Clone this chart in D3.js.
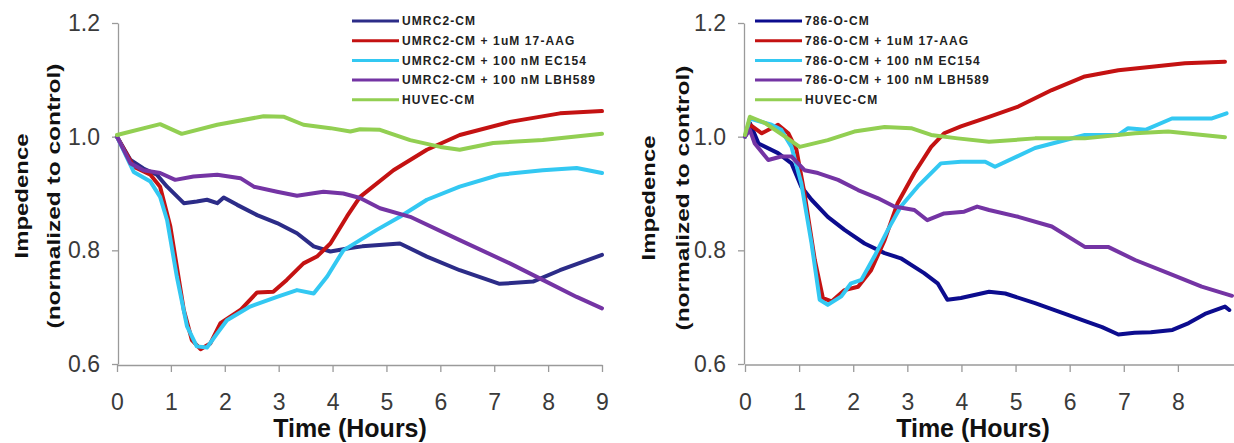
<!DOCTYPE html>
<html>
<head>
<meta charset="utf-8">
<script src="https://cdn.jsdelivr.net/npm/d3@7"></script>
<style>
  html, body { margin: 0; padding: 0; background: #fff; }
  svg { display: block; }
  text { font-family: "Liberation Sans", Arial, sans-serif; }
</style>
</head>
<body>
<svg id="chart" width="1234" height="443"></svg>
<script>
// ---------------- DATA ----------------
const yTicks = [0.6, 0.8, 1.0, 1.2];
const xTicksLeft = [0, 1, 2, 3, 4, 5, 6, 7, 8, 9];
const xTicksRight = [0, 1, 2, 3, 4, 5, 6, 7, 8];
const yTitle1 = "Impedence";
const yTitle2 = "(normalized to control)";
const xTitle = "Time (Hours)";

const legendLeft = ["UMRC2-CM", "UMRC2-CM + 1uM 17-AAG", "UMRC2-CM + 100 nM EC154", "UMRC2-CM + 100 nM LBH589", "HUVEC-CM"];
const legendRight = ["786-O-CM", "786-O-CM + 1uM 17-AAG", "786-O-CM + 100 nM EC154", "786-O-CM + 100 nM LBH589", "HUVEC-CM"];

// Left panel (UMRC2)
const umrcT = [0, 0.25, 0.49, 0.74, 0.93, 1.24, 1.48, 1.67, 1.86, 1.98, 2.23, 2.6, 2.97, 3.34, 3.65, 3.96, 4.33, 4.55, 5.25, 5.75, 6.36, 7.1, 7.72, 8.22, 9.0];
const umrcV = [1.0, 0.959, 0.944, 0.933, 0.912, 0.883, 0.886, 0.889, 0.883, 0.893, 0.88, 0.862, 0.848, 0.83, 0.807, 0.798, 0.804, 0.807, 0.812, 0.789, 0.765, 0.741, 0.745, 0.765, 0.792];

const umrcAagT = [0, 0.31, 0.62, 0.8, 0.99, 1.24, 1.39, 1.55, 1.73, 1.92, 2.29, 2.6, 2.9, 3.15, 3.46, 3.71, 3.96, 4.27, 4.51, 5.13, 5.75, 6.36, 7.29, 8.22, 9.0];
const umrcAagV = [1.0, 0.947, 0.933, 0.912, 0.842, 0.695, 0.642, 0.626, 0.636, 0.672, 0.695, 0.726, 0.727, 0.748, 0.777, 0.789, 0.812, 0.86, 0.894, 0.941, 0.977, 1.003, 1.026, 1.041, 1.045];

const umrcEcT = [0, 0.31, 0.62, 0.8, 0.93, 1.11, 1.3, 1.48, 1.67, 1.86, 2.04, 2.47, 2.97, 3.34, 3.65, 3.9, 4.2, 4.51, 4.82, 5.25, 5.75, 6.36, 7.1, 7.9, 8.53, 9.0];
const umrcEcV = [1.0, 0.938, 0.921, 0.894, 0.853, 0.754, 0.666, 0.631, 0.629, 0.654, 0.677, 0.701, 0.718, 0.73, 0.724, 0.754, 0.8, 0.818, 0.836, 0.859, 0.889, 0.912, 0.933, 0.941, 0.945, 0.936];

const umrcLbhT = [0, 0.25, 0.49, 0.8, 1.08, 1.42, 1.86, 2.29, 2.54, 2.97, 3.34, 3.83, 4.2, 4.51, 4.88, 5.44, 6.36, 7.29, 7.9, 8.53, 9.0];
const umrcLbhV = [1.0, 0.953, 0.941, 0.936, 0.924, 0.93, 0.933, 0.927, 0.912, 0.903, 0.896, 0.903, 0.9, 0.892, 0.874, 0.859, 0.818, 0.777, 0.748, 0.718, 0.698];

const huvecLT = [0, 0.8, 1.2, 1.86, 2.72, 3.1, 3.46, 3.96, 4.33, 4.51, 4.88, 5.44, 6.0, 6.36, 6.98, 7.9, 9.0];
const huvecLV = [1.003, 1.022, 1.005, 1.021, 1.036, 1.035, 1.021, 1.015, 1.009, 1.013, 1.012, 0.994, 0.982, 0.977, 0.989, 0.994, 1.005];

// Right panel (786-O)
const oT = [0, 0.09, 0.25, 0.61, 0.86, 1.04, 1.23, 1.53, 1.84, 2.21, 2.58, 2.88, 3.31, 3.56, 3.74, 3.99, 4.51, 4.81, 5.36, 5.98, 6.3, 6.6, 6.9, 7.2, 7.5, 7.9, 8.2, 8.5, 8.87, 8.95];
const oV = [1.0, 1.024, 0.988, 0.971, 0.953, 0.912, 0.889, 0.859, 0.836, 0.812, 0.795, 0.786, 0.76, 0.742, 0.713, 0.716, 0.727, 0.724, 0.707, 0.686, 0.675, 0.665, 0.652, 0.655, 0.656, 0.66, 0.672, 0.688, 0.701, 0.695];

const oAagT = [0, 0.09, 0.31, 0.61, 0.8, 0.95, 1.1, 1.29, 1.44, 1.6, 1.84, 2.09, 2.33, 2.58, 2.82, 3.13, 3.44, 3.68, 3.99, 4.51, 5.05, 5.67, 6.28, 6.9, 7.52, 8.13, 8.87];
const oAagV = [1.0, 1.021, 1.006, 1.021, 1.006, 0.977, 0.9, 0.783, 0.716, 0.71, 0.73, 0.736, 0.765, 0.818, 0.883, 0.936, 0.982, 1.006, 1.018, 1.035, 1.053, 1.082, 1.106, 1.117, 1.123, 1.129, 1.132];

const oEcT = [0, 0.09, 0.49, 0.67, 0.86, 1.04, 1.23, 1.38, 1.53, 1.78, 1.96, 2.15, 2.39, 2.64, 2.88, 3.19, 3.62, 3.99, 4.44, 4.62, 5.36, 6.28, 6.9, 7.08, 7.4, 7.89, 8.63, 8.9];
const oEcV = [1.0, 1.032, 1.021, 1.012, 0.982, 0.918, 0.812, 0.713, 0.704, 0.719, 0.742, 0.748, 0.789, 0.836, 0.877, 0.912, 0.953, 0.956, 0.956, 0.947, 0.98, 1.003, 1.003, 1.015, 1.012, 1.032, 1.032, 1.041];

const oLbhT = [0, 0.09, 0.18, 0.43, 0.67, 0.86, 1.1, 1.35, 1.72, 2.09, 2.45, 2.76, 3.13, 3.37, 3.68, 4.05, 4.29, 4.51, 5.05, 5.67, 6.28, 6.71, 7.21, 7.82, 8.44, 9.0];
const oLbhV = [1.0, 1.012, 0.988, 0.959, 0.965, 0.965, 0.941, 0.936, 0.924, 0.906, 0.892, 0.877, 0.871, 0.853, 0.865, 0.868, 0.877, 0.871, 0.859, 0.842, 0.806, 0.806, 0.783, 0.76, 0.736, 0.72];

const huvecRT = [0, 0.09, 0.37, 0.74, 1.01, 1.53, 2.02, 2.58, 3.07, 3.44, 3.93, 4.51, 5.36, 6.28, 7.21, 7.82, 8.87];
const huvecRV = [1.003, 1.035, 1.024, 1.0, 0.982, 0.994, 1.009, 1.017, 1.015, 1.003, 0.997, 0.991, 0.997, 0.997, 1.006, 1.009, 0.999];

// ---------------- DRAW ----------------
const svg = d3.select("#chart");
const zip = (ts, vs) => ts.map((t, i) => ({ t: t, v: vs[i] }));

const panels = [
  {
    x0: 117, x1: 602, yAxisX: 118, xTicks: xTicksLeft, legend: legendLeft,
    legX: 352, legY: 21, title1X: 28, title2X: 60, titleY: 196, xTitleX: 350,
    colors: ["#2c2c88", "#c41212", "#33c8f2", "#7434a4", "#92cf52"],
    series: [zip(umrcT, umrcV), zip(umrcAagT, umrcAagV), zip(umrcEcT, umrcEcV), zip(umrcLbhT, umrcLbhV), zip(huvecLT, huvecLV)]
  },
  {
    x0: 745, x1: 1232, yAxisX: 744, xTicks: xTicksRight, legend: legendRight,
    legX: 755, legY: 21, title1X: 655, title2X: 689, titleY: 198, xTitleX: 973,
    colors: ["#0c0c8e", "#c41212", "#33c8f2", "#7434a4", "#92cf52"],
    series: [zip(oT, oV), zip(oAagT, oAagV), zip(oEcT, oEcV), zip(oLbhT, oLbhV), zip(huvecRT, huvecRV)]
  }
];

const yTop = 23, yBot = 364;

panels.forEach(p => {
  const x = d3.scaleLinear().domain([0, 9]).range([p.x0, p.x1]);
  const y = d3.scaleLinear().domain([0.6, 1.2]).range([yBot, yTop]);
  const g = svg.append("g");

  // y axis
  const ya = g.append("g").attr("transform", `translate(${p.yAxisX},0)`)
    .call(d3.axisLeft(y).tickValues(yTicks).tickFormat(d3.format(".1f")).tickSize(6).tickPadding(12).tickSizeOuter(0));
  // x axis
  const xa = g.append("g").attr("transform", `translate(0,${yBot + 1})`)
    .call(d3.axisBottom(x).tickValues(p.xTicks).tickFormat(d3.format("d")).tickSize(7).tickPadding(22).tickSizeOuter(0));
  if (p.x1 > 1200) {
    xa.select(".domain").attr("d", `M${p.x0},0H1234`);
  }
  [ya, xa].forEach(a => {
    a.select(".domain").attr("stroke", "#9a9a9a").attr("stroke-width", 1.3);
    a.selectAll(".tick line").attr("stroke", "#9a9a9a").attr("stroke-width", 1.3);
    a.selectAll(".tick text").attr("fill", "#3a3a3a").attr("font-size", 23)
      .attr("font-family", "'Liberation Sans', Arial, sans-serif");
  });

  // lines
  const line = d3.line().x(d => x(d.t)).y(d => y(d.v)).curve(d3.curveLinear);
  p.series.forEach((s, i) => {
    g.append("path").datum(s).attr("d", line)
      .attr("fill", "none").attr("stroke", p.colors[i]).attr("stroke-width", 4)
      .attr("stroke-linejoin", "round").attr("stroke-linecap", "round");
  });

  // legend
  const lg = g.append("g");
  p.legend.forEach((name, i) => {
    const yy = p.legY + i * 19.7;
    lg.append("line").attr("x1", p.legX).attr("x2", p.legX + 47).attr("y1", yy).attr("y2", yy)
      .attr("stroke", p.colors[i]).attr("stroke-width", 3);
    lg.append("text").attr("x", p.legX + 50).attr("y", yy).attr("dy", "0.36em")
      .attr("font-size", 12).attr("font-weight", "bold").attr("letter-spacing", 1.1)
      .attr("fill", "#222").text(name);
  });

  // y title
  g.append("text").attr("transform", `translate(${p.title1X},${p.titleY}) rotate(-90)`)
    .attr("text-anchor", "middle").attr("font-size", 19).attr("font-weight", "bold")
    .attr("textLength", 125).attr("lengthAdjust", "spacingAndGlyphs").attr("fill", "#111").text(yTitle1);
  g.append("text").attr("transform", `translate(${p.title2X},${p.titleY}) rotate(-90)`)
    .attr("text-anchor", "middle").attr("font-size", 19).attr("font-weight", "bold")
    .attr("textLength", 265).attr("lengthAdjust", "spacingAndGlyphs").attr("fill", "#111").text(yTitle2);

  // x title
  g.append("text").attr("x", p.xTitleX).attr("y", 437).attr("text-anchor", "middle")
    .attr("font-size", 25).attr("font-weight", "bold").attr("fill", "#111").text(xTitle);
});
</script>
</body>
</html>
